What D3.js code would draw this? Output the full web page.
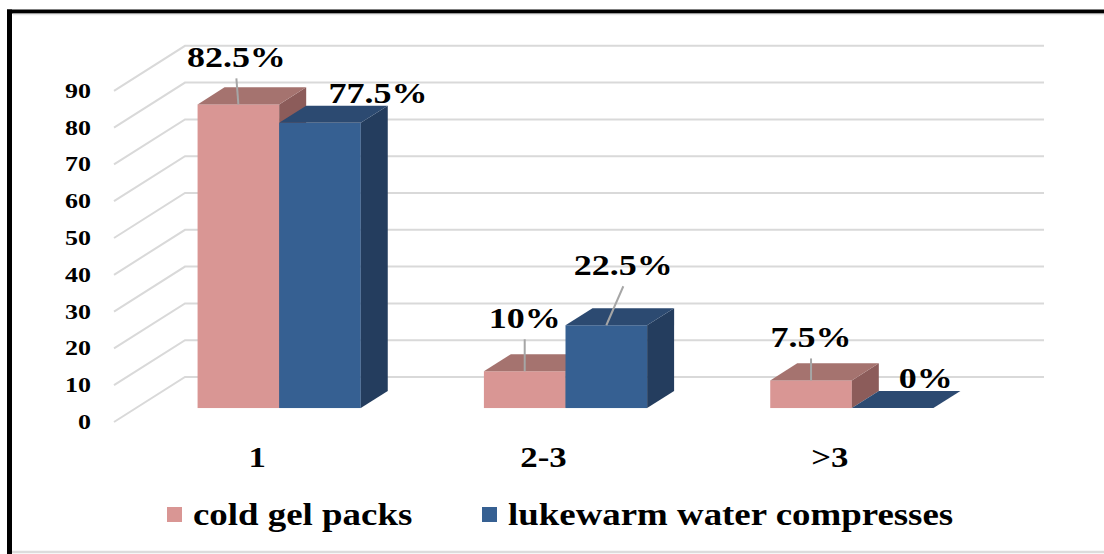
<!DOCTYPE html>
<html>
<head>
<meta charset="utf-8">
<script src="https://cdn.jsdelivr.net/npm/d3@7"></script>
<style>
  body { margin: 0; background: #fff; }
  text { font-family: "Liberation Serif", "Times New Roman", serif; font-weight: bold; fill: #000; }
</style>
</head>
<body>
<div id="chart"></div>
<script>
// data
const categories = ["1", "2-3", ">3"];
const seriesNames = ["cold gel packs", "lukewarm water compresses"];
const coldGelPacks = [82.5, 10, 7.5];
const lukewarmCompresses = [77.5, 22.5, 0];
const yTicks = [0, 10, 20, 30, 40, 50, 60, 70, 80, 90];

// hand placed data labels (offset from bar top centre, leader line or not)
const labelOffsets = [
  [[-2, -37, true], [58, -20, false]],
  [[0, -43, true], [17, -50, true]],
  [[0, -33, true], [33, -20, false]]
];

const colors = {
  "cold gel packs": { front: "#d99694", top: "#a5736f", side: "#8c5c5a" },
  "lukewarm water compresses": { front: "#366092", top: "#2c4a71", side: "#243d5e" }
};

const width = 1104, height = 554;
const plotLeft = 114, plotRight = 973, plotBase = 422;
const depth = { dx: 71, dy: -45 };
const barNear = 0.31, barFar = 0.69;

const svg = d3.select("#chart").append("svg")
  .attr("width", width)
  .attr("height", height);

svg.append("rect").attr("width", width).attr("height", height).attr("fill", "#fff");

// frame
svg.append("line").attr("x1", 7).attr("x2", width).attr("y1", 11.5).attr("y2", 11.5)
  .attr("stroke", "#000").attr("stroke-width", 4);
svg.append("line").attr("x1", 9.5).attr("x2", 9.5).attr("y1", 9.5).attr("y2", height)
  .attr("stroke", "#000").attr("stroke-width", 5);
svg.append("line").attr("x1", 13).attr("x2", width).attr("y1", 14.5).attr("y2", 14.5)
  .attr("stroke", "#e6e6e6").attr("stroke-width", 1.5);
svg.append("line").attr("x1", 12).attr("x2", width).attr("y1", 552).attr("y2", 552)
  .attr("stroke", "#dcdcdc").attr("stroke-width", 2.5);

const y = d3.scaleLinear().domain([0, 90]).range([plotBase, plotBase - 90 * 3.68]);

const x0 = d3.scaleBand()
  .domain(categories)
  .range([plotLeft, plotRight])
  .paddingInner(0.43)
  .paddingOuter(0.215);

const x1 = d3.scaleBand()
  .domain(seriesNames)
  .range([0, x0.bandwidth()]);

// side wall + back wall gridlines
const grid = svg.append("g");
yTicks.forEach(t => {
  const yf = y(t);
  grid.append("path")
    .attr("d", "M" + plotLeft + "," + yf +
               "L" + (plotLeft + depth.dx) + "," + (yf + depth.dy) +
               "L" + (plotRight + depth.dx) + "," + (yf + depth.dy))
    .attr("fill", "none")
    .attr("stroke", "#d9d9d9")
    .attr("stroke-width", 2);
});

// y axis labels
const yAxis = svg.append("g");
yTicks.forEach(t => {
  yAxis.append("g")
    .attr("transform", "translate(91," + (y(t) + 7) + ") scale(1.3,1)")
    .append("text")
    .attr("text-anchor", "end")
    .attr("font-size", 20)
    .text(t);
});

// bars
const nx = depth.dx * barNear, ny = depth.dy * barNear;
const fx = depth.dx * barFar, fy = depth.dy * barFar;
const series = [coldGelPacks, lukewarmCompresses];
const bars = svg.append("g");
const labels = svg.append("g");

categories.forEach((c, i) => {
  seriesNames.forEach((s, j) => {
    const v = series[j][i];
    const xa = x0(c) + x1(s);
    const xb = xa + x1.bandwidth();
    const yt = y(v), yb = y(0);
    const col = colors[s];

    if (v > 0) {
      bars.append("rect")
        .attr("x", xa + nx)
        .attr("y", yt + ny)
        .attr("width", xb - xa)
        .attr("height", yb - yt)
        .attr("fill", col.front);
      bars.append("polygon")
        .attr("points", [[xb + nx, yt + ny], [xb + fx, yt + fy], [xb + fx, yb + fy], [xb + nx, yb + ny]].join(" "))
        .attr("fill", col.side);
    }
    bars.append("polygon")
      .attr("points", [[xa + nx, yt + ny], [xb + nx, yt + ny], [xb + fx, yt + fy], [xa + fx, yt + fy]].join(" "))
      .attr("fill", col.top);

    // data label
    const cx = (xa + xb) / 2 + nx;
    const cy = yt + ny;
    const off = labelOffsets[i][j];
    const lx = cx + off[0], ly = cy + off[1];
    if (off[2]) {
      labels.append("line")
        .attr("x1", cx).attr("y1", cy)
        .attr("x2", lx).attr("y2", ly + 11)
        .attr("stroke", "#a6a6a6")
        .attr("stroke-width", 2);
    }
    labels.append("g")
      .attr("transform", "translate(" + lx + "," + ly + ") scale(1.2,1)")
      .append("text")
      .attr("text-anchor", "middle")
      .attr("font-size", 30)
      .text(v + "%");
  });
});

// category labels
const xAxis = svg.append("g");
categories.forEach(c => {
  xAxis.append("g")
    .attr("transform", "translate(" + (x0(c) + x0.bandwidth() / 2) + ",467) scale(1.2,1)")
    .append("text")
    .attr("text-anchor", "middle")
    .attr("font-size", 29)
    .text(c);
});

// legend
const legendX = [167, 482];
const legend = svg.append("g");
seriesNames.forEach((s, j) => {
  legend.append("rect")
    .attr("x", legendX[j])
    .attr("y", 507)
    .attr("width", 15)
    .attr("height", 15)
    .attr("fill", colors[s].front);
  legend.append("g")
    .attr("transform", "translate(" + (legendX[j] + 26) + ",525) scale(1.19,1)")
    .append("text")
    .attr("font-size", 31)
    .text(s);
});
</script>
</body>
</html>
